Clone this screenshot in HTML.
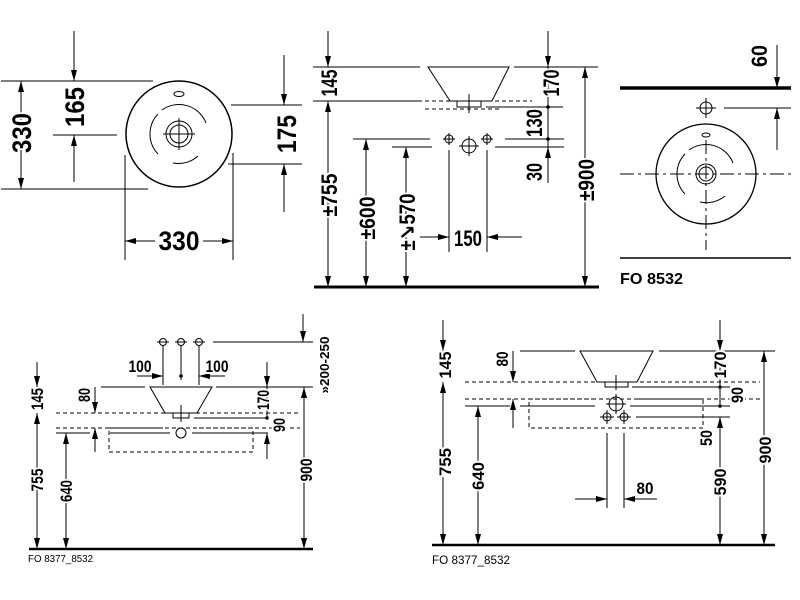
<!DOCTYPE html>
<html><head><meta charset="utf-8"><style>
html,body{margin:0;padding:0;background:#fff;width:800px;height:600px;overflow:hidden}
svg{display:block}
text{font-family:"Liberation Sans","DejaVu Sans",sans-serif;font-weight:bold;fill:#000;stroke:#fff;stroke-width:4px;paint-order:stroke;}
.t1{font-size:27px}.t2{font-size:22px}.t4{font-size:17px}
</style></head><body>
<svg width="800" height="600" viewBox="0 0 800 600" xmlns="http://www.w3.org/2000/svg">
<defs>
<marker id="a" markerWidth="11" markerHeight="6" refX="11" refY="3" orient="auto-start-reverse" markerUnits="userSpaceOnUse"><path d="M0,0L11,3L0,6z" fill="#000"/></marker>
</defs>
<g stroke="#000" stroke-width="1" fill="none">
<path d="M1 81H153M1 189H148M53 135H117M231 105H302M228 164H302M125 155V260M233 153V260"/>
<g marker-end="url(#a)">
<path d="M21 120V81"/><path d="M21 148V189"/><path d="M74 31V81"/><path d="M74 182V135"/>
<path d="M284 55V105"/><path d="M284 212V164"/><path d="M155 241H125"/><path d="M203 241H233"/>
</g>
<circle cx="179" cy="134" r="53" stroke-width="1.5"/>
<circle cx="179" cy="134" r="13"/><circle cx="179" cy="134" r="9"/>
<path d="M163 134H195M179 118V150"/>
<ellipse cx="179" cy="94" rx="5" ry="2.5"/>
<path d="M162 110A29 29 0 0 1 206 123M158 114A29 29 0 0 0 158 154M173 163A29 29 0 0 0 198 156"/>
<path d="M428 67L509 67L492 101L450 101Z"/>
<rect x="457" y="101" width="24" height="6"/>
<path d="M469 94V113M313 67H420M514 67H598M313 101H422M486 107H563M353 139H430M505 139H564M392 147H432M495 147H564M449 150V252M487 150V252M548 67V147"/>
<path d="M425 101H532M425 109H500" stroke-dasharray="4 3"/>
<circle cx="449" cy="139" r="4"/><circle cx="487" cy="139" r="4"/>
<path d="M443 139H455M449 133V145M481 139H493M487 133V145"/>
<circle cx="469" cy="146" r="7"/><path d="M459 146H479M469 136V156"/>
<g marker-end="url(#a)">
<path d="M328 31V67"/><path d="M548 31V67"/><path d="M548 183V147"/>
<path d="M420 237H449"/><path d="M522 237H487"/>
</g>
<g marker-start="url(#a)" marker-end="url(#a)">
<path d="M328 101V287"/><path d="M366 139V287"/><path d="M406 147V287"/><path d="M585 67V287"/>
</g>
<path d="M314 287H599" stroke-width="3"/>
<path d="M620 88H791" stroke-width="3.5"/>
<path d="M620 258H791" stroke-width="1.5"/>
<path d="M724 108H791"/>
<g marker-end="url(#a)"><path d="M777 45V88"/><path d="M777 150V108"/></g>
<circle cx="706" cy="108" r="6"/><path d="M696 108H716M706 98V118"/>
<circle cx="706" cy="174" r="50" stroke-width="1.3"/>
<ellipse cx="706" cy="135" rx="4" ry="2"/>
<circle cx="706" cy="174" r="10"/><circle cx="706" cy="174" r="7"/>
<path d="M620 174H791M706 140V250" stroke-dasharray="14 4 3 4"/>
<path d="M689 150A29 29 0 0 1 733 163M685 154A29 29 0 0 0 685 194M700 202A29 29 0 0 0 725 196"/>
<circle cx="163" cy="342" r="3.5"/><circle cx="181" cy="342" r="3.5"/><circle cx="199" cy="342" r="3.5"/>
<path d="M157 342H169M175 342H187M193 342H205M213 342H313M163 346V385M199 346V385M181 346V380"/>
<path d="M150 387L212 387L197 413L165 413Z"/>
<rect x="173" y="413" width="16" height="5"/>
<path d="M181 405V422M101 387H145M216 387H313M194 418H268M56 433H90M110 433H170M192 433H268M267 387V418"/>
<path d="M56 413H300M56 428H163M199 428H300" stroke-dasharray="4 3"/>
<rect x="109" y="428" width="144" height="24" stroke-dasharray="4 3"/>
<circle cx="181" cy="433" r="5"/>
<g marker-end="url(#a)">
<path d="M303 314V342"/><path d="M137 376H163"/><path d="M225 376H199"/>
<path d="M37 362V387"/><path d="M95 387V413" /><path d="M95 452V428"/>
<path d="M267 362V387"/><path d="M267 459V433"/>
</g>
<g marker-start="url(#a)" marker-end="url(#a)">
<path d="M37 413V549"/><path d="M66 433V549"/><path d="M304 387V549"/>
</g>
<path d="M29 549H313" stroke-width="2.5"/>
<path d="M580 351L653 351L637 382L597 382Z"/>
<rect x="605" y="382" width="23" height="5"/>
<path d="M616 375V390M520 351H575M659 351H775M632 387H730M465 406H510M520 406H595M630 406H730M636 417H730M607 433V508M624 433V508M720 351V406"/>
<path d="M465 382H760M465 399H595M637 399H760" stroke-dasharray="4 3"/>
<rect x="529" y="399" width="174" height="29" stroke-dasharray="4 3"/>
<circle cx="616" cy="404" r="7"/><path d="M606 404H626M616 394V414"/>
<circle cx="607" cy="417" r="4"/><circle cx="624" cy="417" r="4"/>
<path d="M600 417H614M617 417H631M607 410V424M624 410V424"/>
<g marker-end="url(#a)">
<path d="M443 320V351"/><path d="M513 351V382"/><path d="M513 428V399"/>
<path d="M720 320V351"/><path d="M575 499H607"/><path d="M657 499H624"/>
</g>
<g marker-start="url(#a)" marker-end="url(#a)">
<path d="M443 382V545"/><path d="M478 406V545"/><path d="M720 417V545"/><path d="M764 351V545"/>
</g>
<path d="M432 545H775" stroke-width="2.5"/>
</g>
<g fill="#000">
<circle cx="548" cy="107" r="1.8"/><circle cx="548" cy="139" r="1.8"/>
<circle cx="181" cy="376" r="1.8"/><circle cx="267" cy="418" r="1.8"/>
<circle cx="720" cy="387" r="1.8"/><circle cx="720" cy="406" r="1.8"/>
</g>
<g class="t1" text-anchor="middle">
<text x="179" y="250" textLength="41" lengthAdjust="spacingAndGlyphs">330</text>
<text transform="translate(31,133) rotate(-90)" textLength="40" lengthAdjust="spacingAndGlyphs">330</text>
<text transform="translate(84,107) rotate(-90)" textLength="40" lengthAdjust="spacingAndGlyphs">165</text>
<text transform="translate(296,134) rotate(-90)" textLength="38" lengthAdjust="spacingAndGlyphs">175</text>
</g>
<g class="t2" text-anchor="middle">
<text transform="translate(337,83) rotate(-90)" textLength="27" lengthAdjust="spacingAndGlyphs">145</text>
<text transform="translate(337,195) rotate(-90)" textLength="43" lengthAdjust="spacingAndGlyphs">±755</text>
<text transform="translate(375,218) rotate(-90)" textLength="43" lengthAdjust="spacingAndGlyphs">±600</text>
<text transform="translate(415,222) rotate(-90)" textLength="57" lengthAdjust="spacingAndGlyphs">±↘570</text>
<text x="468" y="246" textLength="28" lengthAdjust="spacingAndGlyphs">150</text>
<text transform="translate(559,83) rotate(-90)" textLength="27" lengthAdjust="spacingAndGlyphs">170</text>
<text transform="translate(542,123) rotate(-90)" textLength="28" lengthAdjust="spacingAndGlyphs">130</text>
<text transform="translate(542,172) rotate(-90)" textLength="18" lengthAdjust="spacingAndGlyphs">30</text>
<text transform="translate(594,180) rotate(-90)" textLength="42" lengthAdjust="spacingAndGlyphs">±900</text>
<text transform="translate(767,56) rotate(-90)" textLength="22" lengthAdjust="spacingAndGlyphs">60</text>
</g>
<text x="620" y="284" style="font-size:16px" textLength="63" lengthAdjust="spacingAndGlyphs">FO 8532</text>
<g class="t4" text-anchor="middle">
<text transform="translate(43,399) rotate(-90)" textLength="22" lengthAdjust="spacingAndGlyphs">145</text>
<text transform="translate(90,395) rotate(-90)" textLength="14" lengthAdjust="spacingAndGlyphs">80</text>
<text transform="translate(43,480) rotate(-90)" textLength="23" lengthAdjust="spacingAndGlyphs">755</text>
<text transform="translate(72,491) rotate(-90)" textLength="22" lengthAdjust="spacingAndGlyphs">640</text>
<text x="140" y="372" textLength="23" lengthAdjust="spacingAndGlyphs">100</text>
<text x="217" y="372" textLength="23" lengthAdjust="spacingAndGlyphs">100</text>
<text transform="translate(269,400) rotate(-90)" textLength="20" lengthAdjust="spacingAndGlyphs">170</text>
<text transform="translate(285,425) rotate(-90)" textLength="14" lengthAdjust="spacingAndGlyphs">90</text>
<text transform="translate(312,470) rotate(-90)" textLength="23" lengthAdjust="spacingAndGlyphs">900</text>
<text transform="translate(329,365) rotate(-90)" style="font-size:13px" textLength="57" lengthAdjust="spacingAndGlyphs">»200-250</text>
<text transform="translate(451,365) rotate(-90)" textLength="27" lengthAdjust="spacingAndGlyphs">145</text>
<text transform="translate(508,359) rotate(-90)" textLength="15" lengthAdjust="spacingAndGlyphs">80</text>
<text transform="translate(451,462) rotate(-90)" textLength="28" lengthAdjust="spacingAndGlyphs">755</text>
<text transform="translate(484,476) rotate(-90)" textLength="28" lengthAdjust="spacingAndGlyphs">640</text>
<text transform="translate(726,365) rotate(-90)" textLength="27" lengthAdjust="spacingAndGlyphs">170</text>
<text transform="translate(743,395) rotate(-90)" textLength="16" lengthAdjust="spacingAndGlyphs">90</text>
<text transform="translate(712,438) rotate(-90)" textLength="16" lengthAdjust="spacingAndGlyphs">50</text>
<text transform="translate(726,482) rotate(-90)" textLength="27" lengthAdjust="spacingAndGlyphs">590</text>
<text transform="translate(771,450) rotate(-90)" textLength="27" lengthAdjust="spacingAndGlyphs">900</text>
<text x="645" y="494" textLength="17" lengthAdjust="spacingAndGlyphs">80</text>
</g>
<text x="28" y="562" style="font-size:10px;font-weight:normal" textLength="65" lengthAdjust="spacingAndGlyphs">FO 8377_8532</text>
<text x="432" y="564" style="font-size:12px;font-weight:normal" textLength="78" lengthAdjust="spacingAndGlyphs">FO 8377_8532</text>
</svg>
</body></html>
